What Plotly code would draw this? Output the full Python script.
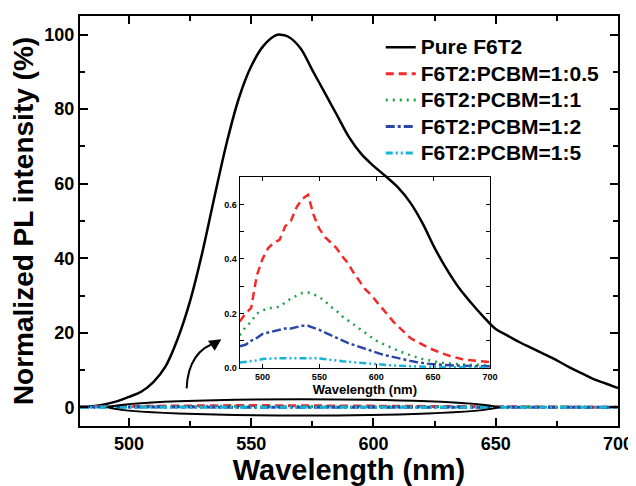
import plotly.graph_objects as go

# Pure F6T2 spectrum (normalized, %)
wl_pure = [480, 485, 490, 495, 500, 505, 510, 515, 520, 525, 530, 535, 540, 545, 550, 555,
           560, 562, 565, 570, 575, 580, 585, 590, 595, 600, 605, 610, 615, 620, 625, 630,
           635, 640, 645, 650, 655, 660, 665, 670, 675, 680, 685, 690, 695, 700]
pure = [0.0, 0.3, 0.8, 1.6, 2.8, 4.2, 6.8, 11.0, 18.5, 28.5, 41.5, 56.5, 71.0, 83.0, 91.5, 97.0,
        99.8, 100.0, 99.5, 96.5, 90.5, 84.5, 78.5, 72.5, 68.0, 64.8, 62.0, 59.0, 55.0, 49.5, 42.8, 37.0,
        32.0, 28.0, 24.3, 21.0, 19.2, 17.4, 15.8, 14.2, 12.6, 10.8, 9.2, 7.6, 6.4, 5.2]

# blends (same % units, shown enlarged in the inset)
wl = list(range(480, 705, 5))
r_05 = [0.17, 0.20, 0.22, 0.34, 0.40, 0.44, 0.46, 0.47, 0.52, 0.54, 0.59, 0.62, 0.635, 0.56, 0.51,
        0.48, 0.46, 0.44, 0.41, 0.385, 0.35, 0.32, 0.29, 0.27, 0.245, 0.22, 0.195, 0.17, 0.15, 0.13,
        0.11, 0.098, 0.086, 0.076, 0.067, 0.058, 0.051, 0.044, 0.038, 0.033, 0.03, 0.027, 0.025,
        0.024, 0.022]
r_1 = [0.12, 0.15, 0.17, 0.20, 0.21, 0.22, 0.22, 0.225, 0.24, 0.255, 0.265, 0.275, 0.277, 0.27, 0.26,
       0.245, 0.225, 0.21, 0.19, 0.175, 0.16, 0.145, 0.13, 0.115, 0.10, 0.09, 0.08, 0.07, 0.062, 0.054,
       0.046, 0.04, 0.034, 0.029, 0.025, 0.021, 0.018, 0.016, 0.014, 0.013, 0.012, 0.012, 0.011,
       0.011, 0.012]
r_2 = [0.08, 0.085, 0.10, 0.11, 0.125, 0.13, 0.135, 0.14, 0.145, 0.145, 0.15, 0.155, 0.155, 0.148,
       0.14, 0.13, 0.12, 0.11, 0.10, 0.092, 0.085, 0.078, 0.07, 0.064, 0.058, 0.05, 0.045, 0.04, 0.034,
       0.03, 0.026, 0.022, 0.018, 0.016, 0.014, 0.012, 0.011, 0.01, 0.009, 0.008, 0.007, 0.007, 0.006,
       0.006, 0.006]
r_5 = [0.02, 0.022, 0.025, 0.028, 0.033, 0.035, 0.035, 0.036, 0.036, 0.037, 0.038, 0.037, 0.036,
       0.036, 0.035, 0.032, 0.029, 0.027, 0.025, 0.023, 0.021, 0.019, 0.017, 0.015, 0.013, 0.011, 0.01,
       0.009, 0.008, 0.007, 0.006, 0.005, 0.005, 0.004, 0.004, 0.003, 0.003, 0.003, 0.003, 0.002,
       0.002, 0.002, 0.002, 0.002, 0.002]

names = ["F6T2:PCBM=1:0.5", "F6T2:PCBM=1:1", "F6T2:PCBM=1:2", "F6T2:PCBM=1:5"]
blends = [r_05, r_1, r_2, r_5]
colors = ["#f42a2a", "#1ea347", "#2a48a8", "#17b3d6"]
dashes = ["8px,5px", "2px,5px", "9px,3px,3px,3px", "7px,3px,2px,3px,2px,3px"]

FONT = "Liberation Sans, Arial, sans-serif"


def big(s):
    # legend rows stay tight (legend font 18) while the text is drawn larger
    return '<span style="font-size:21px">' + s + '</span>'


fig = go.Figure()
fig.add_trace(go.Scatter(x=wl_pure, y=pure, mode="lines", name=big("Pure F6T2"),
                         line=dict(color="black", width=2.5, shape="spline")))
for n, ys, c, d in zip(names, blends, colors, dashes):
    fig.add_trace(go.Scatter(x=wl, y=ys, mode="lines", name=big(n),
                             line=dict(color=c, width=3, dash=d)))
for n, ys, c, d in zip(names, blends, colors, dashes):
    fig.add_trace(go.Scatter(x=wl, y=ys, mode="lines", name=n, showlegend=False,
                             xaxis="x2", yaxis="y2",
                             line=dict(color=c, width=2.5, dash=d)))

axis_common = dict(showline=True, linecolor="black", mirror="ticks", ticks="inside",
                   tickcolor="black", showgrid=False, zeroline=False, automargin=False)

# page body has an 8px margin, so the figure is 8px smaller and shifted
fig.update_layout(
    width=628, height=478,
    margin=dict(l=72, r=18, t=8, b=60),
    paper_bgcolor="white", plot_bgcolor="rgba(0,0,0,0)",
    font=dict(family=FONT, color="black"),
    xaxis=dict(**axis_common, range=[480, 700], dtick=50, linewidth=2, tickwidth=2, ticklen=8,
               minor=dict(dtick=25, ticks="inside", ticklen=5, tickwidth=1.5, tickcolor="black"),
               tickfont=dict(size=18, weight="bold"),
               title=dict(text="Wavelength (nm)", font=dict(size=29, weight="bold"), standoff=0)),
    yaxis=dict(**axis_common, range=[-5, 105], dtick=20, linewidth=2, tickwidth=2, ticklen=8,
               minor=dict(dtick=10, ticks="inside", ticklen=5, tickwidth=1.5, tickcolor="black"),
               tickfont=dict(size=18, weight="bold"),
               title=dict(text="Normalized PL intensity (%)", font=dict(size=28, weight="bold"),
                          standoff=8)),
    xaxis2=dict(**axis_common, domain=[0.297, 0.762], anchor="y2", range=[480, 700], dtick=50,
                linewidth=1.2, tickwidth=1, ticklen=4,
                tickfont=dict(size=9, weight="bold"),
                title=dict(text="Wavelength (nm)", font=dict(size=13, weight="bold"), standoff=2)),
    yaxis2=dict(**axis_common, domain=[0.1415, 0.607], anchor="x2", range=[0, 0.7], dtick=0.2,
                tickformat=".1f", linewidth=1.2, tickwidth=1, ticklen=4,
                minor=dict(dtick=0.1, ticks="inside", ticklen=4, tickwidth=1, tickcolor="black"),
                tickfont=dict(size=9, weight="bold")),
    legend=dict(x=0.559, y=0.968, xanchor="left", yanchor="top", bgcolor="rgba(0,0,0,0)",
                font=dict(size=18, weight="bold"), tracegroupgap=0),
    showlegend=True,
)

# ellipse around the quenched curves and the curved arrow to the inset
fig.add_shape(type="path", xref="x", yref="y",
              path="M 491.5,0 C 505,2.9 637,2.9 651,0 C 637,-2.9 505,-2.9 491.5,0 Z",
              line=dict(color="black", width=2))
fig.add_shape(type="path", xref="x", yref="y",
              path="M 523.6,5.1 Q 524.3,15.3 536.5,17.6",
              line=dict(color="black", width=2))
fig.add_annotation(x=537.8, y=18.3, xref="x", yref="y", ax=-9, ay=6, text="",
                   showarrow=True, arrowhead=2, arrowsize=1.2, arrowwidth=2, arrowcolor="black")

fig.write_html("out.html")
